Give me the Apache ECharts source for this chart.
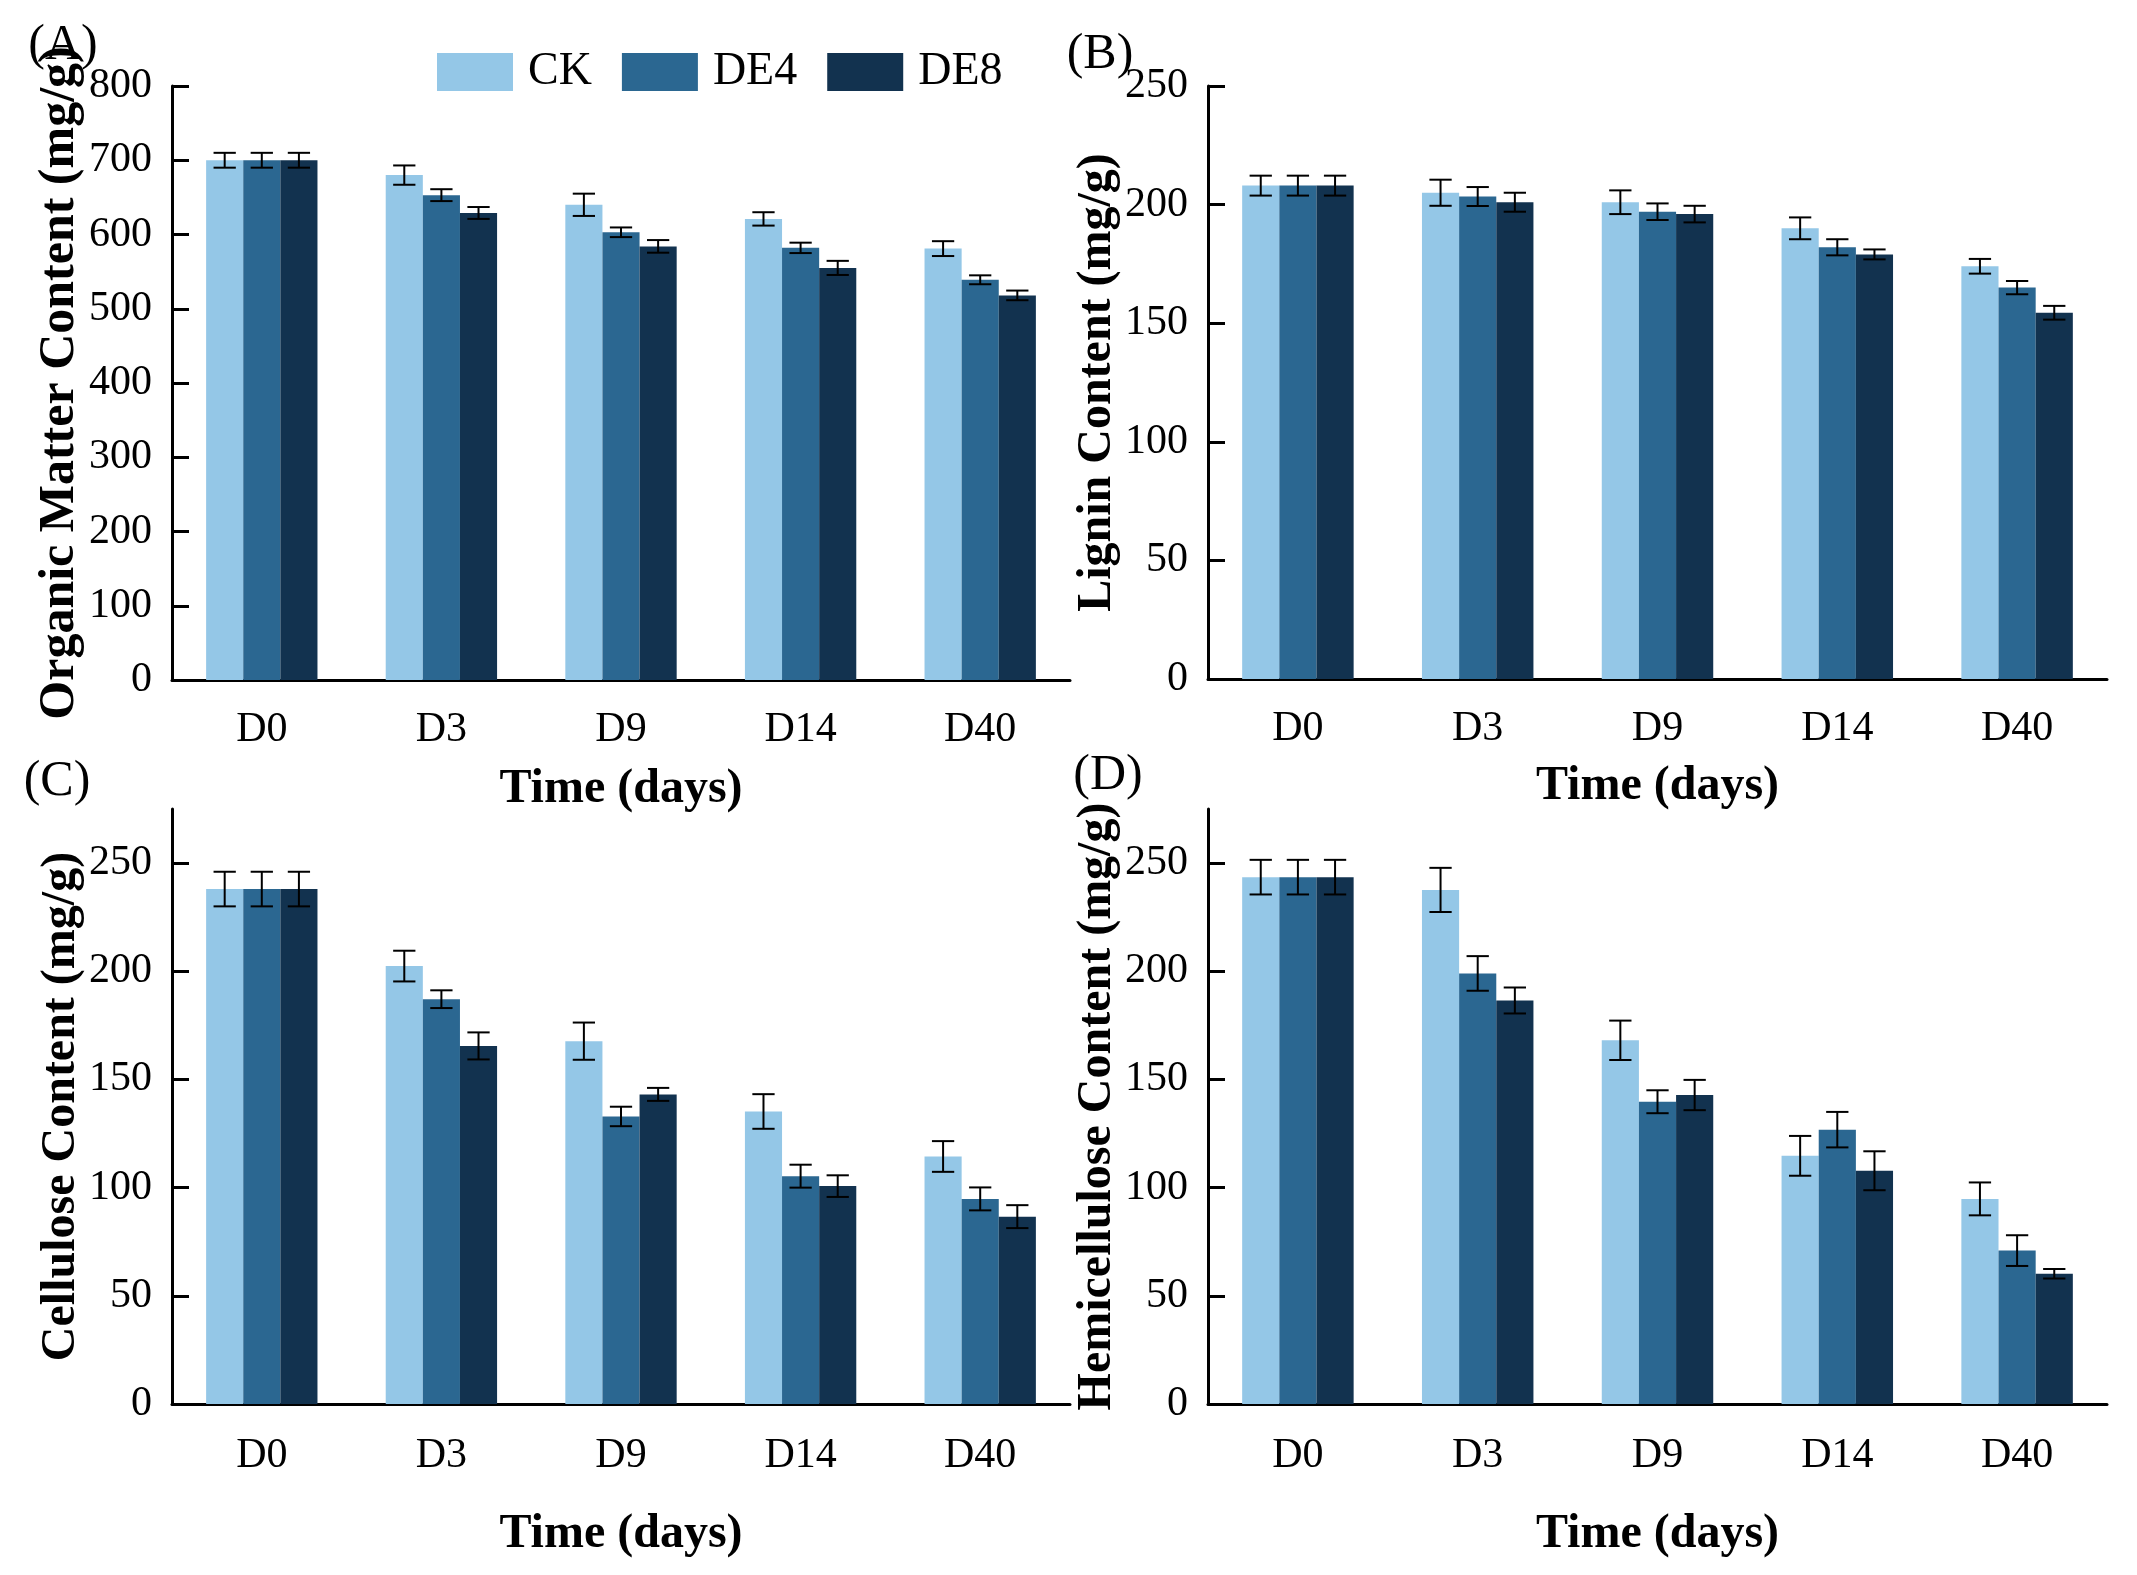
<!DOCTYPE html>
<html>
<head>
<meta charset="utf-8">
<title>Composting fractions</title>
<script src="https://cdn.jsdelivr.net/npm/echarts@6/dist/echarts.min.js"></script>
<style>
  html, body { margin: 0; padding: 0; background: #fff; }
  #main { width: 2137px; height: 1575px; }
</style>
</head>
<body>
<div id="main"></div>
<script>
var days = ['D0', 'D3', 'D9', 'D14', 'D40'];
var groups = ['CK', 'DE4', 'DE8'];
var colors = ['#94c7e7', '#2b6791', '#12324f'];

// (A) organic matter, mg/g
var omCK = [700, 680, 640, 621, 581];
var omDE4 = [700, 653, 603, 582, 539];
var omDE8 = [700, 629, 584, 555, 518];
var omErrCK = [10, 13, 15, 9, 10];
var omErrDE4 = [10, 8, 6.5, 7, 6];
var omErrDE8 = [10, 8, 8.5, 9.5, 6.5];

// (B) lignin, mg/g
var ligCK = [208, 205, 201, 190, 174];
var ligDE4 = [208, 203.4, 197, 182, 165];
var ligDE8 = [208, 201, 196, 179, 154.4];
var ligErrCK = [4.2, 5.5, 5, 4.6, 3.1];
var ligErrDE4 = [4.2, 4, 3.5, 3.4, 2.8];
var ligErrDE8 = [4.2, 4, 3.5, 2.1, 2.9];

// (C) cellulose, mg/g
var celCK = [238, 202.4, 167.7, 135.2, 114.4];
var celDE4 = [238, 187.1, 132.9, 105.3, 94.8];
var celDE8 = [238, 165.5, 143.1, 100.7, 86.6];
var celErrCK = [8, 7.1, 8.6, 8, 7.1];
var celErrDE4 = [8, 4.1, 4.5, 5.3, 5.3];
var celErrDE8 = [8, 6.25, 3, 5, 5.3];

// (D) hemicellulose, mg/g
var hemCK = [243.5, 237.6, 168.1, 114.7, 94.8];
var hemDE4 = [243.5, 199, 139.7, 126.8, 70.9];
var hemDE8 = [243.5, 186.5, 142.8, 107.8, 60.2];
var hemErrCK = [8, 10.2, 9.1, 9.2, 7.6];
var hemErrDE4 = [8, 8, 5.3, 8.2, 7.1];
var hemErrDE8 = [8, 6, 7, 9, 2.2];

var ticksA = [0, 100, 200, 300, 400, 500, 600, 700, 800];
var ticksB = [0, 50, 100, 150, 200, 250];
var ticksCD = [0, 50, 100, 150, 200, 250];

var serif = "'Times New Roman', 'Liberation Serif', serif";
var catGap = 0.38;

var panels = [
  { label: '(A)', name: 'Organic Matter Content (mg/g)', max: 800, ticks: ticksA, yNameSize: 50,
    vals: [omCK, omDE4, omDE8], errs: [omErrCK, omErrDE4, omErrDE8],
    grid: { left: 172, top: 86, width: 898, height: 594 }, nameGap: 86, yNameGap: 84, labelMargin: 29 },
  { label: '(B)', name: 'Lignin Content (mg/g)', max: 250, ticks: ticksB, yNameSize: 48,
    vals: [ligCK, ligDE4, ligDE8], errs: [ligErrCK, ligErrDE4, ligErrDE8],
    grid: { left: 1208, top: 86, width: 899, height: 593 }, nameGap: 84, yNameGap: 82, labelMargin: 29 },
  { label: '(C)', name: 'Cellulose Content (mg/g)', max: 275, ticks: ticksCD, yNameSize: 48,
    vals: [celCK, celDE4, celDE8], errs: [celErrCK, celErrDE4, celErrDE8],
    grid: { left: 172, top: 809, width: 898, height: 595 }, nameGap: 107, yNameGap: 86, labelMargin: 31 },
  { label: '(D)', name: 'Hemicellulose Content (mg/g)', max: 275, ticks: ticksCD, yNameSize: 48,
    vals: [hemCK, hemDE4, hemDE8], errs: [hemErrCK, hemErrDE4, hemErrDE8],
    grid: { left: 1208, top: 809, width: 899, height: 595 }, nameGap: 107, yNameGap: 82, labelMargin: 31 }
];
var labelPos = [[63, 46], [1100, 55], [57, 782], [1108, 776]];

// error bar drawn at the k-th bar slot of a category
function errorRenderer(k) {
  return function (params, api) {
    var c = api.value(0), v = api.value(1), e = api.value(2);
    var band = api.size([1, 0])[0];
    var bw = band * (1 - catGap) / 3;
    var x = api.coord([c, v])[0] + (k - 1) * bw;
    var yHi = api.coord([c, v + e])[1];
    var yLo = api.coord([c, v - e])[1];
    var half = bw * 0.3;
    var st = { stroke: '#000', lineWidth: 2 };
    return {
      type: 'group',
      children: [
        { type: 'line', shape: { x1: x, y1: yHi, x2: x, y2: yLo }, style: st },
        { type: 'line', shape: { x1: x - half, y1: yHi, x2: x + half, y2: yHi }, style: st },
        { type: 'line', shape: { x1: x - half, y1: yLo, x2: x + half, y2: yLo }, style: st }
      ]
    };
  };
}

var grids = [], xAxes = [], yAxes = [], series = [], graphics = [];

panels.forEach(function (p, i) {
  grids.push(p.grid);
  xAxes.push({
    type: 'category', gridIndex: i, data: days,
    name: 'Time (days)', nameLocation: 'middle', nameGap: p.nameGap,
    nameTextStyle: { fontFamily: serif, fontSize: 48, fontWeight: 'bold', color: '#000' },
    axisLine: { lineStyle: { color: '#000', width: 3 } },
    axisTick: { alignWithLabel: true, length: 17, lineStyle: { color: '#000', width: 2.5 } },
    axisLabel: { margin: p.labelMargin, fontFamily: serif, fontSize: 42, color: '#000' }
  });
  yAxes.push({
    type: 'value', gridIndex: i, min: 0, max: p.max, interval: p.ticks[1] - p.ticks[0],
    name: p.name, nameLocation: 'middle', nameGap: p.yNameGap, nameRotate: 90,
    nameTextStyle: { fontFamily: serif, fontSize: p.yNameSize, fontWeight: 'bold', color: '#000' },
    splitLine: { show: false },
    axisLine: { show: true, lineStyle: { color: '#000', width: 3 } },
    axisTick: { show: true, inside: true, length: 17, customValues: p.ticks,
      lineStyle: { color: '#000', width: 3 } },
    axisLabel: { margin: 20, fontFamily: serif, fontSize: 42, color: '#000', customValues: p.ticks,
      padding: [6, 0, 0, 0] }
  });
  groups.forEach(function (g, k) {
    series.push({
      name: g, type: 'bar', xAxisIndex: i, yAxisIndex: i,
      data: p.vals[k], barGap: '0%', barCategoryGap: (catGap * 100) + '%',
      itemStyle: { color: colors[k] }
    });
  });
  groups.forEach(function (g, k) {
    series.push({
      type: 'custom', xAxisIndex: i, yAxisIndex: i, z: 5,
      renderItem: errorRenderer(k),
      encode: { x: 0, y: 1 },
      data: p.vals[k].map(function (v, j) { return [j, v, p.errs[k][j]]; })
    });
  });
  graphics.push({
    type: 'text', x: labelPos[i][0], y: labelPos[i][1],
    style: { text: p.label, font: '50px ' + serif, fill: '#000', align: 'center', verticalAlign: 'middle' }
  });
});

var chart = echarts.init(document.getElementById('main'));
chart.setOption({
  backgroundColor: '#fff',
  animation: false,
  legend: {
    data: groups, left: 432, top: 44, itemWidth: 76, itemHeight: 38, itemGap: 30,
    icon: 'rect',
    textStyle: { fontFamily: serif, fontSize: 46, color: '#000', padding: [0, 0, 0, 10] }
  },
  grid: grids,
  xAxis: xAxes,
  yAxis: yAxes,
  series: series,
  graphic: graphics
});
</script>
</body>
</html>
